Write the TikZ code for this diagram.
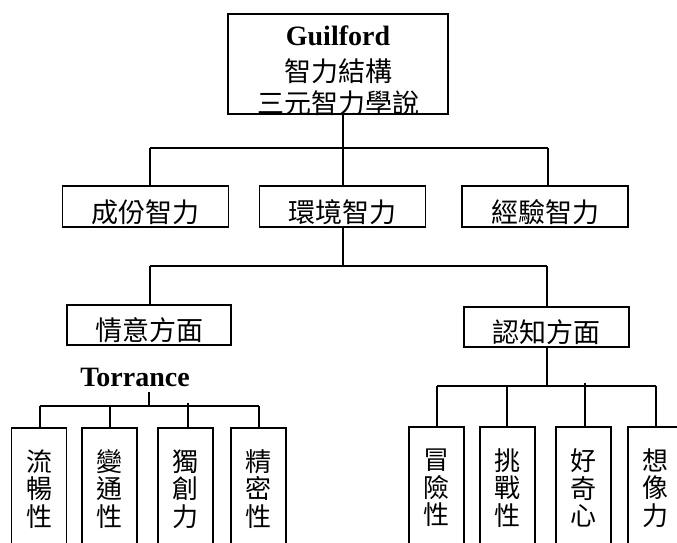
\documentclass[tikz,border=0pt]{standalone}
\usepackage{fontspec}
\setmainfont{Liberation Serif}
\newfontfamily\cjk{Noto Sans CJK TC}
\begin{document}
\begin{tikzpicture}[x=1pt,y=-1pt,
  box/.style={draw, line width=1.8pt, inner sep=0pt},
  con/.style={line width=1.5pt},
  cjkf/.style={font=\cjk\fontsize{27}{32}\selectfont},
  latb/.style={font=\bfseries\fontsize{28}{32}\selectfont},
  mid/.style={box, cjkf, minimum width=166pt, minimum height=41pt, text height=31pt, text depth=0pt},
  leaf/.style={box, minimum width=55pt, minimum height=122pt, anchor=north, align=center, font=\cjk\fontsize{26}{27.5}\selectfont}
]
\useasboundingbox (0,0) rectangle (677,542);
\clip (0,0) rectangle (677,542);

% top box
\node[box, minimum width=220pt, minimum height=100pt] (top) at (338,64) {};
\node[latb, anchor=base, inner sep=0pt] (tg) at (338,45) {Guilford};
\node[cjkf, anchor=base, inner sep=0pt] (t2) at (338,81) {智力結構};
\node[cjkf, anchor=base, inner sep=0pt] (t3) at (338,113) {三元智力學說};

% level 2
\node[mid] (b1) at (145.5,206.5) {成份智力};
\node[mid] (b2) at (342.5,206.5) {環境智力};
\node[mid] (b3) at (545,206.5) {經驗智力};

\coordinate (j1) at (343,148);
\coordinate (j1l) at (150,148);
\coordinate (j1r) at (548,148);
\draw[con] (top.south -| j1) -- (j1);
\draw[con] (j1l) -- (j1r);
\draw[con] (j1l) -- (j1l |- b1.north);
\draw[con] (j1) -- (j1 |- b2.north);
\draw[con] (j1r) -- (j1r |- b3.north);

% level 3
\node[mid, minimum width=164pt, minimum height=40pt] (c1) at (149,325) {情意方面};
\node[mid, minimum width=165pt, minimum height=40pt] (c2) at (546.5,327) {認知方面};

\coordinate (j2) at (343,266);
\coordinate (j2l) at (150,266);
\coordinate (j2r) at (547,266);
\draw[con] (b2.south -| j2) -- (j2);
\draw[con] (j2l) -- (j2r);
\draw[con] (j2l) -- (j2l |- c1.north);
\draw[con] (j2r) -- (j2r |- c2.north);

% left branch
\node[latb, anchor=base, inner xsep=0pt, inner ysep=6pt] (tor) at (135,386) {Torrance};
\coordinate (j3) at (149,406);
\coordinate (j3l) at (40,406);
\coordinate (j3r) at (259,406);
\node[leaf] (l1) at (39,427) {流\\暢\\性};
\node[leaf] (l2) at (109.5,427) {變\\通\\性};
\node[leaf] (l3) at (185.5,427) {獨\\創\\力};
\node[leaf] (l4) at (258.5,427) {精\\密\\性};
\draw[con] (tor.south -| j3) -- (j3);
\draw[con] (j3l) -- (j3r);
\draw[con] (j3l) -- (j3l |- l1.north);
\draw[con] (110,406) -- (110,427);
\draw[con] (188,403) -- (188,427);
\draw[con] (j3r) -- (j3r |- l4.north);

% right branch
\coordinate (j4) at (547,386);
\coordinate (j4l) at (437,386);
\coordinate (j4r) at (656,386);
\node[leaf] (r1) at (436.5,426) {冒\\險\\性};
\node[leaf] (r2) at (507.5,426) {挑\\戰\\性};
\node[leaf] (r3) at (583.5,426) {好\\奇\\心};
\node[leaf] (r4) at (655.5,426) {想\\像\\力};
\draw[con] (c2.south -| j4) -- (j4);
\draw[con] (j4l) -- (j4r);
\draw[con] (j4l) -- (j4l |- r1.north);
\draw[con] (507,386) -- (507,426);
\draw[con] (585,383) -- (585,426);
\draw[con] (j4r) -- (j4r |- r4.north);
\end{tikzpicture}
\end{document}
